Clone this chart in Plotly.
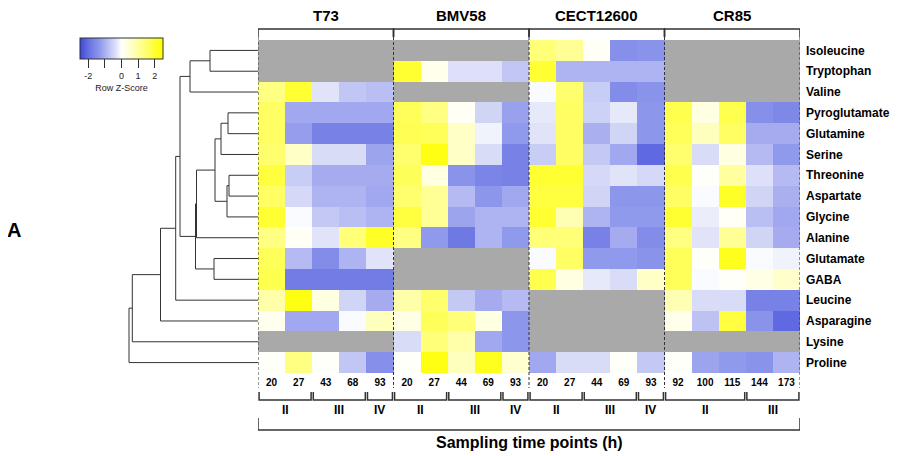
import plotly.graph_objects as go

# ---------------- data ----------------
amino_acids = ["Isoleucine", "Tryptophan", "Valine", "Pyroglutamate", "Glutamine",
               "Serine", "Threonine", "Aspartate", "Glycine", "Alanine",
               "Glutamate", "GABA", "Leucine", "Asparagine", "Lysine", "Proline"]

strains = ["T73", "BMV58", "CECT12600", "CR85"]

t73_hours = [20, 27, 43, 68, 93]
bmv58_hours = [20, 27, 44, 69, 93]
cect12600_hours = [20, 27, 44, 69, 93]
cr85_hours = [92, 100, 115, 144, 173]

t73_phases = ["II", "II", "III", "III", "IV"]
bmv58_phases = ["II", "II", "III", "III", "IV"]
cect12600_phases = ["II", "II", "III", "III", "IV"]
cr85_phases = ["II", "II", "II", "III", "III"]

NA = None
# Row Z-scores (rows = amino acids, 5 sampling points per strain)
t73_z = [
    [NA, NA, NA, NA, NA],
    [NA, NA, NA, NA, NA],
    [1.3, 2.0, -0.3, -0.7, -0.8],
    [1.6, -1.1, -1.1, -1.1, -1.1],
    [1.6, -1.25, -1.7, -1.7, -1.7],
    [1.5, 0.6, -0.4, -0.4, -1.15],
    [1.9, -0.6, -1.05, -1.05, -1.05],
    [1.6, -0.45, -0.95, -0.95, -1.1],
    [2.0, -0.05, -0.65, -0.8, -0.95],
    [1.3, 0.1, -0.3, 1.4, 2.1],
    [1.7, -0.85, -1.5, -0.95, -0.3],
    [1.8, -1.8, -1.8, -1.8, -1.8],
    [0.9, 2.3, 0.3, -0.5, -1.05],
    [0.15, -1.1, -1.1, -0.05, 0.7],
    [NA, NA, NA, NA, NA],
    [0.05, 1.3, 0.05, -0.7, -1.45],
]
bmv58_z = [
    [NA, NA, NA, NA, NA],
    [2.0, 0.2, -0.35, -0.35, -0.7],
    [NA, NA, NA, NA, NA],
    [1.7, 1.3, 0.1, -0.5, -1.2],
    [1.75, 1.7, 0.6, -0.15, -1.3],
    [1.5, 2.3, 0.6, -0.4, -1.7],
    [1.7, 0.3, -1.4, -1.65, -1.7],
    [1.5, 1.1, -0.85, -1.35, -1.1],
    [1.9, 1.1, -1.15, -0.95, -0.95],
    [1.3, -1.3, -1.85, -0.95, -1.3],
    [NA, NA, NA, NA, NA],
    [NA, NA, NA, NA, NA],
    [0.9, 1.5, -0.65, -1.05, -0.85],
    [0.25, 1.7, 1.4, 0.3, -1.35],
    [-0.4, 1.4, 0.9, -1.1, -1.35],
    [0.05, 2.3, 0.7, 2.2, 0.5],
]
cect12600_z = [
    [1.4, 1.1, 0.1, -1.45, -1.4],
    [2.0, -0.95, -0.95, -0.95, -0.95],
    [-0.05, 1.5, -0.6, -1.5, -1.4],
    [-0.25, 1.6, -0.55, -0.25, -1.35],
    [-0.3, 1.6, -1.0, -0.5, -1.35],
    [-0.6, 1.6, -0.65, -1.1, -2.1],
    [2.0, 2.0, -0.45, -0.3, -0.45],
    [1.9, 1.9, -0.5, -1.35, -1.35],
    [2.0, 0.8, -0.95, -1.3, -1.3],
    [1.4, 1.4, -1.7, -1.05, -1.5],
    [-0.05, 1.6, -1.3, -1.3, -1.4],
    [1.8, 0.3, -0.25, -0.4, 0.6],
    [NA, NA, NA, NA, NA],
    [NA, NA, NA, NA, NA],
    [NA, NA, NA, NA, NA],
    [-1.1, -0.4, -0.4, 0.05, -0.65],
]
cr85_z = [
    [NA, NA, NA, NA, NA],
    [NA, NA, NA, NA, NA],
    [NA, NA, NA, NA, NA],
    [1.8, 0.3, 1.8, -1.45, -1.6],
    [1.7, 0.7, 1.6, -1.05, -1.05],
    [1.5, -0.4, 0.3, -0.85, -1.3],
    [1.8, 0.05, 1.0, -0.35, -0.85],
    [1.6, -0.05, 2.1, -0.5, -1.0],
    [2.0, -0.2, 0.1, -0.8, -1.1],
    [1.3, -0.3, 1.1, -0.5, -1.05],
    [1.7, 0.05, 2.2, -0.05, -0.15],
    [1.7, -0.05, 0.05, 0.25, 0.55],
    [0.8, -0.4, -0.4, -1.7, -1.7],
    [0.2, -0.75, 1.9, -1.4, -2.1],
    [NA, NA, NA, NA, NA],
    [0.05, -1.15, -1.3, -1.4, -0.95],
]

# Row dendrogram merges: (child_a, child_b, height); leaves are row indices,
# "m<k>" refers to the k-th merge (1-based)
row_merges = [
    (0, 1, 48), ("m1", 2, 68),
    (3, 4, 30), ("m3", 5, 37),
    (6, 7, 29), ("m5", 8, 31),
    ("m4", "m6", 43), ("m7", 9, 61.5),
    (10, 11, 44), ("m8", "m9", 62.5),
    ("m2", "m10", 78), ("m11", 12, 82.3),
    ("m12", 13, 97.5), ("m13", 14, 125.7), ("m14", 15, 129),
]

# ---------------- build ----------------
OFF = 8                      # page body margin
W, H = 906 - OFF, 456 - OFF  # figure size


def px(p):  # window pixel column -> paper x
    return (p - OFF) / W


def py(p):  # window pixel row -> paper y
    return 1 - (p - OFF) / H


all_z = [t73_z[i] + bmv58_z[i] + cect12600_z[i] + cr85_z[i] for i in range(len(amino_acids))]
hours = t73_hours + bmv58_hours + cect12600_hours + cr85_hours
phases_all = [t73_phases, bmv58_phases, cect12600_phases, cr85_phases]
ncol = len(hours)
cols = list(range(ncol))
rows = list(range(len(amino_acids)))
na_z = [[1 if v is None else None for v in r] for r in all_z]

colorscale = [
    [0.0, "rgb(58,70,220)"], [0.08, "rgb(95,105,225)"], [0.16, "rgb(120,130,230)"],
    [0.23, "rgb(140,150,235)"], [0.30, "rgb(170,175,240)"], [0.38, "rgb(200,205,245)"],
    [0.44, "rgb(225,228,248)"], [0.5, "rgb(255,255,255)"], [0.56, "rgb(255,255,225)"],
    [0.66, "rgb(255,255,180)"], [0.76, "rgb(255,255,130)"], [0.84, "rgb(255,255,90)"],
    [0.90, "rgb(255,255,50)"], [1.0, "rgb(255,255,0)"],
]

FONT = "Liberation Sans, Arial, Helvetica, sans-serif"
fig = go.Figure()

fig.add_trace(go.Heatmap(
    z=all_z, x=cols, y=rows, colorscale=colorscale, zmin=-2.5, zmax=2.5,
    xaxis="x", yaxis="y", hoverongaps=False,
    colorbar=dict(
        orientation="h", x=px(80), xanchor="left", y=py(38), yanchor="top",
        len=83, lenmode="pixels", thickness=21, thicknessmode="pixels",
        xpad=0, ypad=0, outlinewidth=1, outlinecolor="#333",
        tickvals=[-2, -1, 0, 1, 2], ticktext=["-2", "", "0", "1", "2"],
        ticks="outside", ticklen=9, tickcolor="#333", tickwidth=1,
        tickfont=dict(size=9, color="#222", family=FONT),
        title=dict(text="Row Z-Score", side="bottom", font=dict(size=9, color="#222", family=FONT)),
    ),
))
fig.add_trace(go.Heatmap(
    z=na_z, x=cols, y=rows, colorscale=[[0, "#a9a9a9"], [1, "#a9a9a9"]],
    showscale=False, xaxis="x", yaxis="y", hoverinfo="skip",
))

# dendrogram
pos = {}
hgt = {}
for i in rows:
    pos[i] = i
    hgt[i] = 0.0
dx, dy = [], []
for k, (a, b, h) in enumerate(row_merges, start=1):
    ya, yb = pos[a], pos[b]
    dx += [hgt[a], h, h, hgt[b], None]
    dy += [ya, ya, yb, yb, None]
    name = f"m{k}"
    pos[name] = (ya + yb) / 2
    hgt[name] = h
fig.add_trace(go.Scatter(x=dx, y=dy, mode="lines", xaxis="x2", yaxis="y",
                         line=dict(color="#333", width=1), hoverinfo="skip",
                         showlegend=False))

shapes = []
annotations = []
lc = "#333"


def label(text, x, y, size, xref="x"):
    annotations.append(dict(text=f"<b>{text}</b>", x=x, y=y, xref=xref, yref="paper",
                            xanchor="center", yanchor="middle", showarrow=False,
                            borderpad=0,
                            font=dict(size=size, color="black", family=FONT)))


# panel borders (dashed)
for k in range(len(strains) + 1):
    xb = -0.5 + 5 * k
    shapes.append(dict(type="line", xref="x", yref="paper", x0=xb, x1=xb,
                       y0=py(37), y1=py(388), line=dict(color=lc, width=1, dash="3px,2px")))
# top brackets + titles
for k, s in enumerate(strains):
    x0, x1 = -0.5 + 5 * k, 4.5 + 5 * k
    shapes.append(dict(type="path", xref="x", yref="paper",
                       path=f"M {x0},{py(37)} L {x0},{py(29)} L {x1},{py(29)} L {x1},{py(37)}",
                       line=dict(color=lc, width=1.5)))
    label(s, (x0 + x1) / 2, py(15), 15)
# phase brackets
for k, ph in enumerate(phases_all):
    start = 0
    for j in range(1, len(ph) + 1):
        if j == len(ph) or ph[j] != ph[start]:
            x0 = 5 * k + start - 0.5 + 0.04
            x1 = 5 * k + j - 1 + 0.5 - 0.04
            shapes.append(dict(type="path", xref="x", yref="paper",
                               path=f"M {x0},{py(392)} L {x0},{py(400)} L {x1},{py(400)} L {x1},{py(392)}",
                               line=dict(color=lc, width=1.5)))
            label(ph[start], (x0 + x1) / 2, py(410), 12)
            start = j
# overall bracket
shapes.append(dict(type="path", xref="x", yref="paper",
                   path=f"M -0.5,{py(418)} L -0.5,{py(430)} L {ncol - 0.5},{py(430)} L {ncol - 0.5},{py(418)}",
                   line=dict(color=lc, width=1.5)))
label("Sampling time points (h)", (ncol - 1) / 2, py(442), 16)
label("A", px(14), py(230), 20, xref="paper")

fig.update_layout(
    width=W, height=H, autosize=False,
    margin=dict(l=0, r=0, t=0, b=0),
    paper_bgcolor="white", plot_bgcolor="white",
    font=dict(family=FONT, color="black"),
    showlegend=False,
    xaxis=dict(domain=[px(258), px(800)], range=[-0.5, ncol - 0.5], tickvals=cols,
               ticktext=[f"<b>{h}</b>" for h in hours], ticks="", showgrid=False,
               zeroline=False, showline=False, tickfont=dict(size=10, color="black"),
               ticklabelstandoff=2, anchor="y"),
    yaxis=dict(domain=[py(373), py(40)], range=[len(rows) - 0.5, -0.5], side="right",
               tickvals=rows, ticktext=[f"<b>{a}</b>" for a in amino_acids], ticks="",
               showgrid=False, zeroline=False, showline=False,
               tickfont=dict(size=12, color="black"), ticklabelstandoff=5, anchor="x"),
    xaxis2=dict(domain=[px(120), px(258)], range=[138, 0], visible=False, anchor="y"),
    shapes=shapes, annotations=annotations,
)

fig.write_html("out.html")
